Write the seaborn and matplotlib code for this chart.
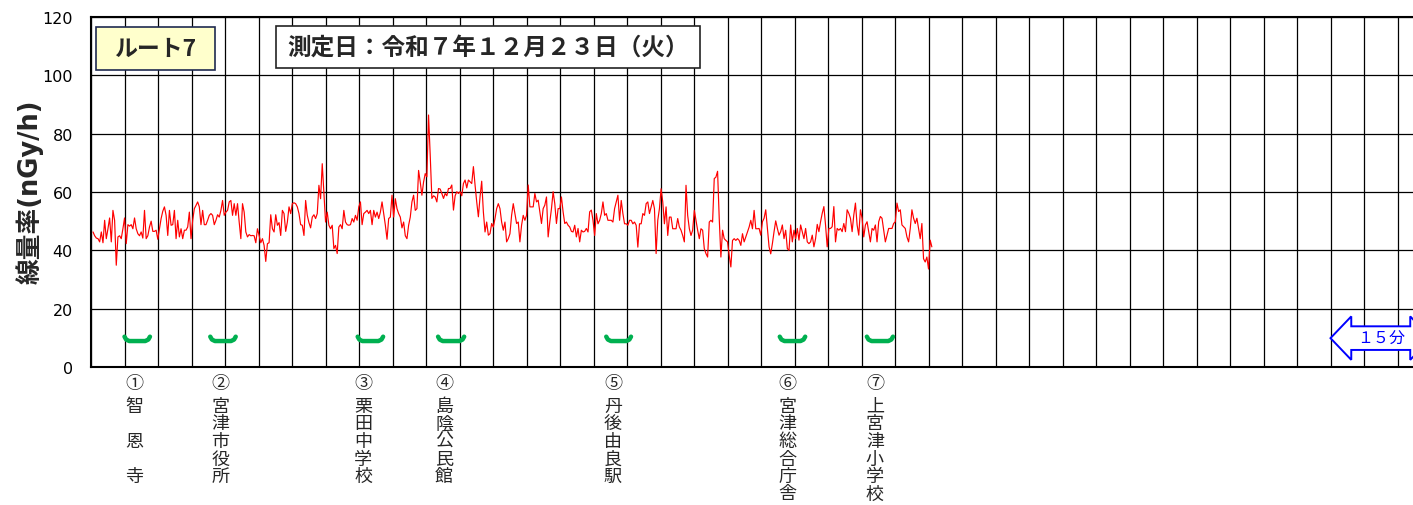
import numpy as np
import pandas as pd
import matplotlib
matplotlib.use("Agg")
import matplotlib.pyplot as plt
from matplotlib.patches import Rectangle, Polygon
import seaborn as sns

# Air dose rate along route 7 (nGy/h), one reading roughly every 15 s
dose_rate = [
    46.3, 45.0, 44.2, 44.0, 42.9, 46.3, 42.6, 50.3, 44.0, 47.4,
    51.1, 42.9, 53.7, 50.3, 34.9, 44.6, 45.0, 44.0, 47.4, 51.1,
    42.3, 48.8, 48.3, 48.8, 47.4, 51.1, 47.4, 45.7, 45.0, 46.3,
    44.2, 53.7, 44.0, 45.0, 48.0, 50.0, 46.5, 46.5, 46.9, 43.8,
    47.4, 50.9, 53.4, 54.9, 52.0, 45.1, 53.7, 48.6, 48.8, 53.7,
    44.0, 50.3, 44.6, 47.4, 44.0, 46.9, 46.9, 48.0, 53.1, 44.0,
    50.3, 54.3, 55.4, 56.6, 54.9, 48.8, 53.7, 48.8, 48.8, 50.3,
    52.0, 52.6, 52.0, 48.8, 50.3, 52.2, 51.4, 53.7, 57.1, 52.0,
    53.1, 53.7, 56.6, 57.1, 52.0, 56.0, 52.0, 56.0, 49.7, 44.0,
    56.0, 53.1, 46.3, 44.6, 45.4, 45.0, 45.1, 45.0, 42.6, 47.4,
    45.1, 42.6, 44.0, 41.7, 36.2, 42.3, 42.6, 52.2, 47.4, 46.3,
    52.2, 48.6, 49.5, 45.1, 53.7, 52.6, 46.5, 49.7, 54.9, 52.6,
    56.0, 56.3, 56.0, 54.9, 52.6, 48.8, 48.6, 45.1, 57.1, 52.0,
    49.5, 47.7, 51.4, 52.2, 50.9, 52.6, 62.3, 57.7, 69.7, 60.0,
    49.7, 53.1, 48.6, 47.4, 48.6, 40.6, 41.7, 38.9, 48.0, 48.8,
    47.4, 53.7, 49.7, 48.8, 48.6, 48.8, 50.9, 49.7, 52.0, 50.3,
    54.9, 56.6, 48.8, 52.6, 53.1, 53.7, 52.6, 53.7, 48.8, 53.7,
    51.4, 53.1, 50.9, 53.1, 56.6, 52.6, 48.6, 43.8, 50.9, 51.4,
    58.9, 51.4, 57.7, 54.3, 52.6, 51.4, 47.7, 49.7, 45.0, 44.0,
    48.6, 51.4, 56.6, 58.9, 53.7, 54.3, 67.4, 63.4, 58.9, 63.4,
    66.3,
    65.2, 86.4, 72.7, 57.8, 58.7, 58.3, 56.6, 61.2, 61.0, 59.5,
    57.8, 59.5, 58.7, 61.2, 61.2, 62.4, 53.8, 58.7, 60.1, 59.5,
    60.1, 58.7, 62.9, 64.1, 61.4, 64.1, 63.5, 62.9, 68.7, 62.4,
    56.6, 51.5, 58.3, 63.7, 53.2, 46.3, 49.7, 45.2, 45.7, 49.2,
    48.0, 50.9, 54.3, 56.0, 54.3, 49.7, 46.9, 49.7, 42.9, 44.0,
    45.7, 52.0, 56.0, 52.6, 49.2, 49.7, 42.9, 48.6, 52.0, 50.3,
    52.0, 62.4, 54.9, 54.9, 54.9, 59.5, 56.6, 57.2, 53.2, 49.2,
    54.3, 55.5, 58.3, 44.6, 49.7, 54.3, 60.1, 56.0, 49.2, 54.3,
    54.3, 58.3, 53.2, 49.2, 49.7, 48.6, 48.0, 46.5, 46.3, 48.6,
    44.6, 47.5, 42.9, 46.9, 46.3, 46.5, 47.5, 46.3, 53.2, 53.8,
    50.3, 45.1, 52.6, 49.1, 50.3, 52.6, 56.6, 52.0, 52.6, 50.3,
    50.3, 50.3, 49.7, 54.3, 56.6, 58.9, 50.3, 57.1, 52.6, 49.1,
    49.1, 48.6, 50.3, 50.3, 49.1, 49.7, 48.6, 41.1, 49.1, 49.1,
    52.6, 52.0, 56.0, 56.6, 52.6, 54.9, 57.1, 54.3, 38.9, 50.3,
    54.3, 61.1, 56.6, 49.1, 54.9, 45.1, 51.4, 51.4, 47.4, 47.4,
    47.4, 50.9, 48.0, 46.9, 45.1, 42.9, 62.3, 52.0, 47.4, 45.1,
    46.9, 53.7, 50.3, 46.9, 44.0, 47.4, 46.9, 40.6, 38.9, 37.7,
    49.7, 50.3, 49.7, 64.6, 65.1, 67.1, 50.9, 37.7, 46.9, 44.0,
    43.4, 42.9, 38.3, 34.3, 43.4, 44.0, 43.4, 44.0, 43.4, 41.7,
    45.7, 42.9, 44.6, 46.3, 48.0, 50.3, 47.4, 53.7, 47.4, 47.4,
    47.5, 45.2, 49.8, 51.0, 53.9, 47.5, 41.2, 38.8, 42.3, 46.4,
    50.1, 47.5, 45.2, 46.4, 48.7, 44.0, 46.9, 40.6, 40.0, 48.7,
    42.9, 46.9, 44.0, 47.5, 43.5, 48.7, 46.4, 44.0, 47.5, 42.9,
    42.3, 42.9, 45.2, 41.2, 44.0, 48.9, 46.4, 49.8, 52.7, 55.0,
    48.7, 41.2, 47.5, 47.5, 48.1, 55.0, 42.9, 47.5, 46.9, 47.5,
    46.4, 49.2, 46.4, 53.9, 52.7, 51.0, 46.4, 52.1, 56.2, 48.7,
    45.2, 53.9, 51.0, 44.6, 48.7, 49.8, 46.4, 42.9, 47.5, 46.9,
    48.7, 42.9, 49.8, 51.6, 51.0, 46.9, 42.9, 45.2, 47.5, 47.5,
    47.5, 49.2, 49.8, 56.2, 53.3, 53.9, 48.7, 48.1, 47.5, 44.6,
    42.9, 47.5, 53.9, 51.0, 49.2, 51.0, 47.5, 44.0, 49.2, 37.1,
    36.0, 37.7, 33.6, 43.5, 41.2,
]
# elapsed time of the first and last reading (min)
start_min, end_min = 0.3, 125.5

# survey points along the route
stop_numbers = ["①", "②", "③", "④", "⑤", "⑥", "⑦"]
stop_names = ["智　恩　寺", "宮津市役所", "栗田中学校", "島陰公民館",
              "丹後由良駅", "宮津総合庁舎", "上宮津小学校"]
stop_label_min = [6.4, 19.3, 40.6, 52.7, 77.9, 103.9, 117.0]
stop_start = [5.0, 17.8, 39.8, 51.8, 76.9, 102.8, 115.8]
stop_end = [8.8, 21.6, 43.6, 55.7, 80.6, 106.6, 119.7]

route_title = "ルート7"
date_title = "測定日：令和７年１２月２３日（火）"
y_label = "線量率(nGy/h)"
y_ticks = [0, 20, 40, 60, 80, 100, 120]
scale_label = "１５分"
scale_span = (185.0, 200.0)

sns.set_theme(style="white")
plt.rcParams["font.family"] = ["DejaVu Sans", "Noto Sans CJK JP"]
JP = ["Noto Sans CJK JP", "DejaVu Sans"]

W, H = 1413, 506
fig = plt.figure(figsize=(W / 100, H / 100), dpi=100)
fig.patch.set_facecolor("white")
# axes spans 91..1431 px horizontally (right part runs past the canvas)
ax = fig.add_axes([91 / W, (H - 368) / H, 1340 / W, 350 / H])
ax.set_facecolor("white")

df = pd.DataFrame({
    "minutes": np.linspace(start_min, end_min, len(dose_rate)),
    "rate": dose_rate,
})
sns.lineplot(data=df, x="minutes", y="rate", ax=ax, color="#FF0000",
             linewidth=0.85, estimator=None, zorder=4)

ax.set_xlim(0, 200)
ax.set_ylim(0, 120)
ax.set_xticks(np.arange(0, 201, 5))
ax.set_xticklabels([])
ax.set_yticks(y_ticks)
ax.set_yticklabels([str(v) for v in y_ticks], fontsize=11.5, color="black")
ax.tick_params(axis="both", length=0)
ax.tick_params(axis="y", pad=13)
ax.grid(True, color="black", linewidth=0.9, zorder=1)
ax.set_axisbelow(True)
ax.set_xlabel("")
ax.set_ylabel("")
for side in ["left", "bottom", "top", "right"]:
    ax.spines[side].set_color("black")
    ax.spines[side].set_linewidth(1.5)

ax.text((30 - 91) / 1340, 0.503, y_label, transform=ax.transAxes,
        rotation=90, ha="center", va="center", fontsize=18.5,
        fontweight="bold", family=["DejaVu Sans", "Noto Sans CJK JP"])

# title boxes
ax.add_patch(Rectangle((0.75, 101.8), 17.75, 14.8, facecolor="#FFFFCC",
                       edgecolor="#1F2A50", linewidth=1.2, zorder=5))
ax.text(9.6, 109.2, route_title, ha="center", va="center", fontsize=16.5,
        fontweight="bold", family=JP, zorder=6)
ax.add_patch(Rectangle((27.6, 102.5), 63.3, 14.4, facecolor="white",
                       edgecolor="#222222", linewidth=1.2, zorder=5))
ax.text(59.3, 109.7, date_title, ha="center", va="center", fontsize=17,
        fontweight="bold", family=JP, zorder=6)

# stop markers (green brackets)
for s, e in zip(stop_start, stop_end):
    xs = [s, s + 0.25, s + 0.7, e - 0.7, e - 0.25, e]
    ys = [10.4, 9.4, 8.9, 8.9, 9.4, 10.4]
    ax.plot(xs, ys, color="#00B050", linewidth=3.2, solid_capstyle="round",
            solid_joinstyle="round", zorder=5)

# stop labels below the axis, written vertically
xform = ax.get_xaxis_transform()
def ax_y(py):
    return (368 - py) / 350

for num, name, xm in zip(stop_numbers, stop_names, stop_label_min):
    ax.text(xm, ax_y(384), num, transform=xform, ha="center", va="center",
            fontsize=13, family=JP, clip_on=False)
    for i, ch in enumerate(name):
        ax.text(xm, ax_y(407 + 17.5 * i), ch, transform=xform, ha="center",
                va="center", fontsize=13, family=JP, clip_on=False)

# 15-minute scale arrow
x0, x1 = scale_span
head, yc, hh, sh = 3.1, 9.9, 7.45, 4.05
pts = [(x0, yc), (x0 + head, yc + hh), (x0 + head, yc + sh),
       (x1 - head, yc + sh), (x1 - head, yc + hh), (x1, yc),
       (x1 - head, yc - hh), (x1 - head, yc - sh), (x0 + head, yc - sh),
       (x0 + head, yc - hh)]
ax.add_patch(Polygon(pts, closed=True, facecolor="white", edgecolor="#0000FF",
                     linewidth=1.4, zorder=6, clip_on=False))
ax.text((x0 + x1) / 2, yc, scale_label, ha="center", va="center",
        fontsize=11.5, color="#0000FF", family=JP, zorder=7, clip_on=False)

fig.savefig("out.png", dpi=100, facecolor="white")
